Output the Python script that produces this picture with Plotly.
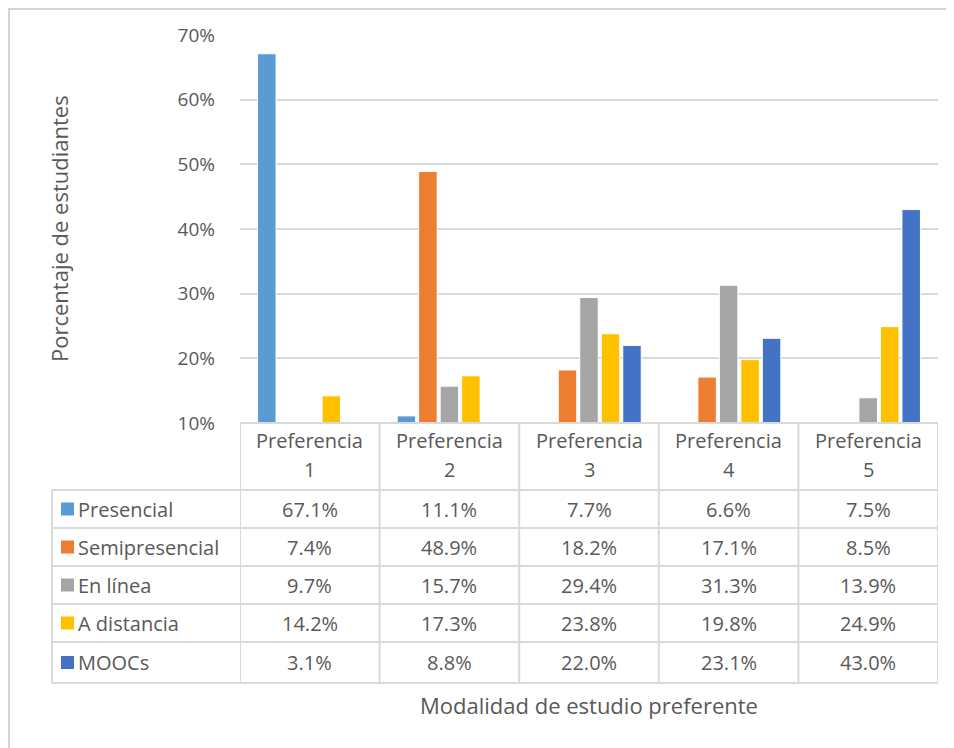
import plotly.graph_objects as go

categories = ["Preferencia 1", "Preferencia 2", "Preferencia 3", "Preferencia 4", "Preferencia 5"]
series_names = ["Presencial", "Semipresencial", "En línea", "A distancia", "MOOCs"]
presencial = [67.1, 11.1, 7.7, 6.6, 7.5]
semipresencial = [7.4, 48.9, 18.2, 17.1, 8.5]
en_linea = [9.7, 15.7, 29.4, 31.3, 13.9]
a_distancia = [14.2, 17.3, 23.8, 19.8, 24.9]
moocs = [3.1, 8.8, 22.0, 23.1, 43.0]
series_values = [presencial, semipresencial, en_linea, a_distancia, moocs]
colors = ["#5B9BD5", "#ED7D31", "#A5A5A5", "#FFC000", "#4472C4"]
y_title = "Porcentaje de estudiantes"
x_title = "Modalidad de estudio preferente"

OFF = 8  # default page body margin
W, H = 954 - OFF, 748 - OFF
ML, MR, MT, MB = 232, 16, 27, 325
PW = W - ML - MR
PH = H - MT - MB
FONT = "Open Sans"
TXT = "#595959"
GRID = "#D9D9D9"
FS = 20


def px_x(sx):
    return (sx - OFF - ML) / PW


def px_y(sy):
    return (H - MB - (sy - OFF)) / PH


fig = go.Figure()
xs = list(range(len(categories)))
for name, vals, col in zip(series_names, series_values, colors):
    fig.add_trace(go.Bar(
        x=xs, y=vals, name=name,
        marker=dict(color=col, line=dict(color="white", width=1)),
        showlegend=False,
    ))

shapes = []
annotations = []

header_top = 423
row_lines = [490, 528, 566, 604, 642, 683]
left_px = 52

shapes.append(dict(type="line", xref="x", yref="paper", x0=-0.5, x1=len(categories) - 0.5,
                   y0=px_y(header_top), y1=px_y(header_top), line=dict(color=GRID, width=2)))
for ry in row_lines:
    shapes.append(dict(type="line", xref="paper", yref="paper", x0=px_x(left_px), x1=1,
                       y0=px_y(ry), y1=px_y(ry), line=dict(color=GRID, width=2)))
for i in range(len(categories) + 1):
    shapes.append(dict(type="line", xref="x", yref="paper", x0=i - 0.5, x1=i - 0.5,
                       y0=px_y(header_top), y1=px_y(row_lines[-1]), line=dict(color=GRID, width=2)))
shapes.append(dict(type="line", xref="paper", yref="paper", x0=px_x(left_px), x1=px_x(left_px),
                   y0=px_y(row_lines[0]), y1=px_y(row_lines[-1]), line=dict(color=GRID, width=2)))

for i, cat in enumerate(categories):
    word, num = cat.rsplit(" ", 1)
    annotations.append(dict(x=i, y=px_y(440), xref="x", yref="paper", text=word, showarrow=False,
                            font=dict(family=FONT, size=FS, color=TXT), xanchor="center", yanchor="middle"))
    annotations.append(dict(x=i, y=px_y(469), xref="x", yref="paper", text=num, showarrow=False,
                            font=dict(family=FONT, size=FS, color=TXT), xanchor="center", yanchor="middle"))

for r, (name, vals, col) in enumerate(zip(series_names, series_values, colors)):
    top, bot = row_lines[r], row_lines[r + 1]
    cy = (top + bot) / 2
    shapes.append(dict(type="rect", xref="paper", yref="paper", x0=px_x(61), x1=px_x(74),
                       y0=px_y(cy - 6.5), y1=px_y(cy + 6.5), fillcolor=col, line=dict(width=0)))
    annotations.append(dict(x=px_x(76), y=px_y(cy), xref="paper", yref="paper", text=name, showarrow=False,
                            font=dict(family=FONT, size=FS, color=TXT), xanchor="left", yanchor="middle"))
    for i, v in enumerate(vals):
        annotations.append(dict(x=i, y=px_y(cy), xref="x", yref="paper", text=f"{v:.1f}%", showarrow=False,
                                font=dict(family=FONT, size=FS, color=TXT), xanchor="center", yanchor="middle"))

annotations.append(dict(x=px_x(59), y=px_y(229), xref="paper", yref="paper", text=y_title, textangle=-90,
                        showarrow=False, font=dict(family=FONT, size=22, color=TXT),
                        xanchor="center", yanchor="middle"))
annotations.append(dict(x=px_x(589), y=px_y(705), xref="paper", yref="paper", text=x_title,
                        showarrow=False, font=dict(family=FONT, size=22, color=TXT),
                        xanchor="center", yanchor="middle"))

shapes.append(dict(type="line", xref="paper", yref="paper", x0=px_x(OFF), x1=px_x(954), y0=px_y(OFF + 1),
                   y1=px_y(OFF + 1), line=dict(color="#D4D4D4", width=2)))
shapes.append(dict(type="line", xref="paper", yref="paper", x0=px_x(OFF + 1), x1=px_x(OFF + 1), y0=px_y(OFF),
                   y1=px_y(748), line=dict(color="#D4D4D4", width=2)))

fig.update_layout(
    width=W, height=H,
    margin=dict(l=ML, r=MR, t=MT, b=MB, autoexpand=False),
    paper_bgcolor="white", plot_bgcolor="white",
    barmode="group", bargap=0.23, bargroupgap=0.14,
    shapes=shapes, annotations=annotations,
    font=dict(family=FONT, size=FS, color=TXT),
)
fig.update_xaxes(range=[-0.5, len(categories) - 0.5], showticklabels=False, showgrid=False,
                 zeroline=False, showline=False, fixedrange=True)
fig.update_yaxes(range=[10, 70], dtick=10, ticksuffix="%", showgrid=True, gridcolor=GRID, gridwidth=2,
                 zeroline=False, showline=False, ticklabelstandoff=24,
                 tickfont=dict(family=FONT, size=19, color=TXT))

fig.write_html("out.html")
